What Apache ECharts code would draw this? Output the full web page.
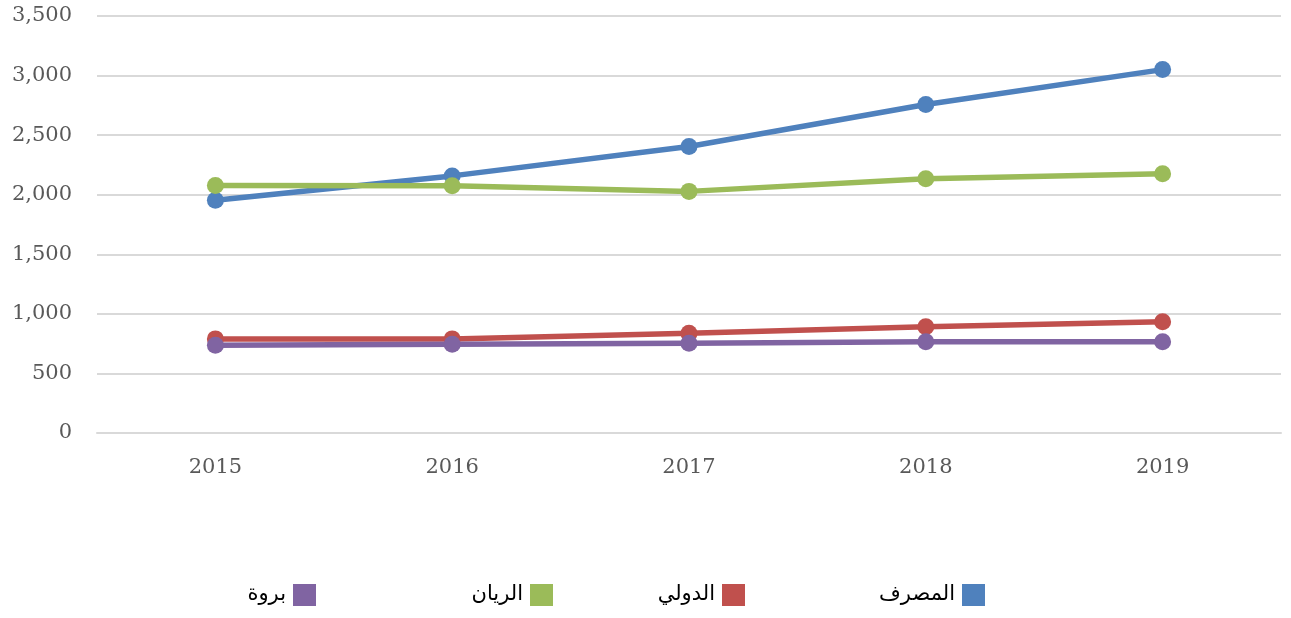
<!DOCTYPE html>
<html>
<head>
<meta charset="utf-8">
<script src="https://cdn.jsdelivr.net/npm/echarts@6/dist/echarts.min.js"></script>
<style>
  html, body { margin: 0; padding: 0; background: #fff; }
  #main { width: 1291px; height: 618px; }
</style>
</head>
<body>
<div id="main"></div>
<script>
const years = ['2015', '2016', '2017', '2018', '2019'];
const masrafValues = [1953, 2158, 2405, 2757, 3050];
const dawliValues = [790, 790, 838, 891, 933];
const rayanValues = [2078, 2076, 2028, 2134, 2176];
const barwaValues = [737, 745, 754, 765, 765];
const seriesNames = ['المصرف', 'الدولي', 'الريان', 'بروة'];
const colors = ['#4F81BD', '#C0504D', '#9BBB59', '#8064A2'];
const legendRight = [306, 546, 738, 975];

const chart = echarts.init(document.getElementById('main'));

const valueSets = [masrafValues, dawliValues, rayanValues, barwaValues];

const option = {
  animation: false,
  color: colors,
  grid: { left: 97, right: 10, top: 16, bottom: 185 },
  legend: seriesNames.map((name, i) => ({
    data: [name],
    right: legendRight[i],
    top: 584,
    padding: 0,
    align: 'right',
    itemWidth: 23,
    itemHeight: 22,
    itemGap: 0,
    icon: 'rect',
    textStyle: { fontFamily: 'DejaVu Sans', fontSize: 21, color: '#000', padding: [0, 2, 0, 0] }
  })),
  xAxis: {
    type: 'category',
    data: years,
    boundaryGap: true,
    axisLine: { lineStyle: { color: '#D9D9D9', width: 2 } },
    axisTick: { show: false },
    axisLabel: { margin: 24, color: '#595959', fontFamily: 'DejaVu Serif', fontSize: 21 }
  },
  yAxis: {
    type: 'value',
    min: 0,
    max: 3500,
    interval: 500,
    axisLine: { show: false },
    axisTick: { show: false },
    splitLine: { lineStyle: { color: '#D9D9D9', width: 2 } },
    axisLabel: {
      margin: 25,
      color: '#595959',
      fontFamily: 'DejaVu Serif',
      fontSize: 21,
      formatter: v => v.toLocaleString('en-US')
    }
  },
  series: seriesNames.map((name, i) => ({
    name: name,
    type: 'line',
    data: valueSets[i],
    symbol: 'circle',
    symbolSize: 17,
    lineStyle: { width: 5.5 },
    itemStyle: { color: colors[i] }
  }))
};

chart.setOption(option);
</script>
</body>
</html>
